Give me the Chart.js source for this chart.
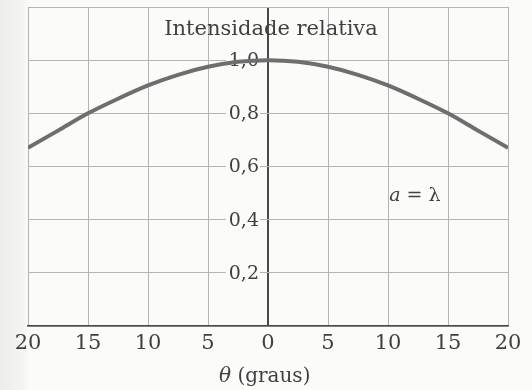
<!DOCTYPE html>
<html>
<head>
<meta charset="utf-8">
<script src="https://cdn.jsdelivr.net/npm/chart.js@4/dist/chart.umd.min.js"></script>
<style>
    html, body { margin: 0; padding: 0; }
    body {
        width: 532px; height: 390px; overflow: hidden;
        background: linear-gradient(to right, #ecece8 0px, #f4f4f1 22px, #fbfbfa 30px, #fbfbfa 100%);
    }
    #wrap { width: 532px; height: 390px; }
</style>
</head>
<body>
<div id="wrap"><canvas id="chart"></canvas></div>
<script>
// Single slit pattern, a = lambda
const angles = [-20, -17.5, -15, -12.5, -10, -7.5, -5, -2.5, 0, 2.5, 5, 7.5, 10, 12.5, 15, 17.5, 20];
const intensity = [0.67, 0.735, 0.80, 0.855, 0.905, 0.945, 0.975, 0.994, 1.0, 0.994, 0.975, 0.945, 0.905, 0.855, 0.80, 0.735, 0.67];
const yTicks = [0.2, 0.4, 0.6, 0.8, 1.0];
const xTicks = [-20, -15, -10, -5, 0, 5, 10, 15, 20];

const titleText = 'Intensidade relativa';
const ink = '#404040';
const serif = '"DejaVu Serif", "Liberation Serif", serif';

// labels on the vertical axis plus the texts placed inside the plot
const annotations = {
    id: 'annotations',
    beforeDatasetsDraw(chart) {
        const c = chart.ctx;
        const xs = chart.scales.x, ys = chart.scales.y;
        const x0 = xs.getPixelForValue(0);
        c.save();
        c.font = '19px ' + serif;
        c.textBaseline = 'middle';
        c.textAlign = 'right';
        yTicks.forEach(v => {
            const label = v.toFixed(1).replace('.', ',');
            const y = ys.getPixelForValue(v);
            const w = c.measureText(label).width;
            c.fillStyle = '#fbfbfa';
            c.fillRect(x0 - 12 - w, y - 8, w + 4, 16);
            c.fillStyle = ink;
            c.fillText(label, x0 - 9, y + 1);
        });

        // heading inside the top row
        c.textAlign = 'center';
        c.font = '21px ' + serif;
        c.fillText(titleText, x0 + 3, ys.getPixelForValue(1.2) + 23);

        // a = λ
        c.textAlign = 'left';
        c.font = 'italic 19px ' + serif;
        const ax = xs.getPixelForValue(10.1), ay = ys.getPixelForValue(0.49);
        c.fillText('a', ax, ay);
        const aw = c.measureText('a').width;
        c.font = '19px ' + serif;
        c.fillText(' = λ', ax + aw, ay);
        c.restore();
    },
    afterDraw(chart) {
        const c = chart.ctx;
        const xs = chart.scales.x;
        c.save();
        c.fillStyle = ink;
        c.textBaseline = 'middle';
        c.textAlign = 'left';
        const cx = xs.getPixelForValue(0) - 49;
        const cy = chart.chartArea.bottom + 51;
        c.font = 'italic 20px ' + serif;
        c.fillText('θ', cx, cy);
        const tw = c.measureText('θ').width;
        c.font = '20px ' + serif;
        c.fillText(' (graus)', cx + tw, cy);
        c.restore();
    }
};

new Chart(document.getElementById('chart'), {
    type: 'line',
    data: {
        datasets: [{
            data: angles.map((a, i) => ({ x: a, y: intensity[i] })),
            borderColor: '#6e6e6e',
            borderWidth: 4,
            pointRadius: 0,
            cubicInterpolationMode: 'monotone',
            fill: false
        }]
    },
    options: {
        responsive: true,
        maintainAspectRatio: false,
        animation: false,
        layout: { padding: { left: 28, right: 24, top: 7, bottom: 0 } },
        plugins: {
            legend: { display: false },
            tooltip: { enabled: false }
        },
        scales: {
            x: {
                type: 'linear',
                min: -20,
                max: 20,
                afterBuildTicks: s => { s.ticks = xTicks.map(v => ({ value: v })); },
                afterFit: s => { s.height = 64; },
                ticks: {
                    padding: 5,
                    color: ink,
                    font: { family: serif, size: 21 },
                    callback: v => String(Math.abs(v)),
                    maxRotation: 0
                },
                grid: {
                    drawTicks: false,
                    color: ctx => ctx.tick && ctx.tick.value === 0 ? '#4a4a4a' : '#b4b4b4',
                    lineWidth: ctx => ctx.tick && ctx.tick.value === 0 ? 2 : 1
                },
                border: { color: '#4a4a4a', width: 1.5 }
            },
            y: {
                min: 0,
                max: 1.2,
                afterFit: s => { s.width = 0; },
                ticks: { stepSize: 0.2, display: false },
                grid: {
                    drawTicks: false,
                    color: '#b4b4b4',
                    lineWidth: 1
                },
                border: { display: false }
            }
        }
    },
    plugins: [annotations]
});
</script>
</body>
</html>
